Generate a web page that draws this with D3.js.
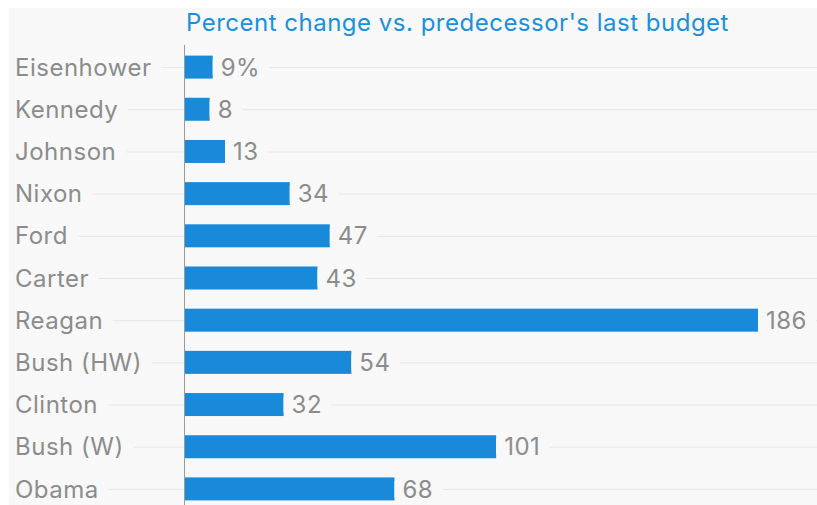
<!DOCTYPE html>
<html>
<head>
<meta charset="utf-8">
<script src="https://cdn.jsdelivr.net/npm/d3@7"></script>
<style>
  html, body { margin: 0; padding: 0; background: #ffffff; }
  svg { display: block; font-family: Inter, "Open Sans", sans-serif; }
</style>
</head>
<body>
<svg id="chart" width="817" height="505"></svg>
<script>
const presidents = ["Eisenhower", "Kennedy", "Johnson", "Nixon", "Ford", "Carter", "Reagan", "Bush (HW)", "Clinton", "Bush (W)", "Obama"];
const percentChange = [9, 8, 13, 34, 47, 43, 186, 54, 32, 101, 68];
const titleText = "Percent change vs. predecessor's last budget";

const W = 817, H = 505;
const panel = { x: 9, y: 8 };
const bg = "#f8f8f8";
const svg = d3.select("#chart");

svg.append("rect").attr("x", panel.x).attr("y", panel.y)
  .attr("width", W - panel.x).attr("height", H - panel.y).attr("fill", bg);

const y = d3.scaleBand().domain(presidents).range([46, 510])
  .paddingInner(0.455).paddingOuter(0.2275);
const x = d3.scaleLinear().domain([0, 186]).range([185, 758]);

// gridlines at row centers
svg.append("g").selectAll("line").data(presidents).join("line")
  .attr("x1", panel.x).attr("x2", W)
  .attr("y1", d => y(d) + y.bandwidth() / 2 + 0.5)
  .attr("y2", d => y(d) + y.bandwidth() / 2 + 0.5)
  .attr("stroke", "#e6e6e6").attr("stroke-width", 1);

// bars
svg.append("g").selectAll("rect").data(presidents).join("rect")
  .attr("x", x(0))
  .attr("y", d => y(d))
  .attr("width", (d, i) => x(percentChange[i]) - x(0))
  .attr("height", y.bandwidth())
  .attr("fill", "#188ad9");

// axis line
svg.append("line").attr("x1", x(0) - 0.5).attr("x2", x(0) - 0.5)
  .attr("y1", 45).attr("y2", H)
  .attr("stroke", "#9a9a9a").attr("stroke-width", 1);

const fontSize = 24;
const spacing = 0.5;

// category labels
const catG = svg.append("g");
presidents.forEach((p, i) => {
  const cy = y(p) + y.bandwidth() / 2;
  const bgRect = catG.append("rect").attr("fill", bg);
  const t = catG.append("text").attr("x", 15).attr("y", cy).attr("dy", "0.36em")
    .attr("font-size", fontSize).attr("letter-spacing", spacing)
    .attr("fill", "#8c8c8c").text(p);
  const bb = t.node().getBBox();
  bgRect.attr("x", panel.x).attr("y", cy - 8).attr("width", bb.x + bb.width + 10 - panel.x).attr("height", 16);
});

// value labels
const valG = svg.append("g");
presidents.forEach((p, i) => {
  const cy = y(p) + y.bandwidth() / 2;
  const vx = x(percentChange[i]) + 8;
  const bgRect = valG.append("rect").attr("fill", bg);
  const t = valG.append("text").attr("x", vx).attr("y", cy).attr("dy", "0.36em")
    .attr("font-size", fontSize).attr("letter-spacing", spacing)
    .attr("fill", "#8c8c8c")
    .text(i === 0 ? percentChange[i] + "%" : String(percentChange[i]));
  const bb = t.node().getBBox();
  bgRect.attr("x", x(percentChange[i])).attr("y", cy - 8)
    .attr("width", bb.x + bb.width + 9 - x(percentChange[i])).attr("height", 16);
});

// title
svg.append("text").attr("x", 186).attr("y", 31)
  .attr("font-size", fontSize).attr("letter-spacing", spacing)
  .attr("fill", "#1a8fdd").text(titleText);
</script>
</body>
</html>
